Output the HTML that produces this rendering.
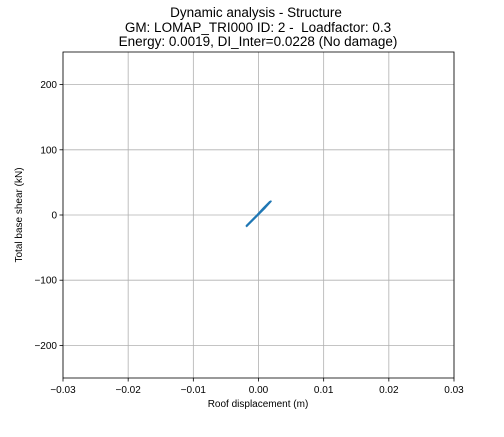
<!DOCTYPE html>
<html><head><meta charset="utf-8"><style>
body{margin:0;background:#fff;}
svg text{font-family:"Liberation Sans",sans-serif;fill:#000;}
.ttl{white-space:pre;}
</style></head><body>
<svg id="c" width="504" height="432" xmlns="http://www.w3.org/2000/svg">
<rect width="504" height="432" fill="#fff"/>
<text x="256" y="17" font-size="13.5" text-anchor="middle" class="ttl">Dynamic analysis - Structure</text>
<text x="258" y="32" font-size="13.5" text-anchor="middle" class="ttl">GM: LOMAP_TRI000 ID: 2 -  Loadfactor: 0.3</text>
<text x="258" y="46" font-size="13.5" text-anchor="middle" class="ttl">Energy: 0.0019, DI_Inter=0.0228 (No damage)</text>
<g id="grid"></g>
<g id="series"></g>
<rect x="63" y="52" width="391" height="326" fill="none" stroke="#000" stroke-width="0.8"/>
<g id="ticks"></g>
<text x="258" y="407" font-size="10" text-anchor="middle">Roof displacement (m)</text>
<text transform="translate(22,215) rotate(-90)" font-size="10" text-anchor="middle">Total base shear (kN)</text>
</svg>
<script>
const xTicks=[-0.03,-0.02,-0.01,0,0.01,0.02,0.03];
const xTickLabels=["−0.03","−0.02","−0.01","0.00","0.01","0.02","0.03"];
const yTicks=[-200,-100,0,100,200];
const yTickLabels=["−200","−100","0","100","200"];
const dispValues=[-0.0019,-0.001,0,0.001,0.0019,0.0017,0.0008,-0.0002,-0.0012,-0.0019];
const shearValues=[-18,-9,1,11,21,20,11,0,-10,-17];
const X0=63,X1=454,Y0=378,Y1=52;
const sx=v=>X0+(v+0.03)/0.06*(X1-X0);
const sy=v=>Y0-(v+250)/500*(Y0-Y1);
const NS="http://www.w3.org/2000/svg";
const g=document.getElementById('grid'),t=document.getElementById('ticks'),s=document.getElementById('series');
function mk(tag,a,p){const e=document.createElementNS(NS,tag);for(const k in a)e.setAttribute(k,a[k]);p.appendChild(e);return e;}
xTicks.forEach((v,i)=>{const x=sx(v);
const l=mk('line',{x1:x,x2:x,y1:Y1,y2:Y0,stroke:'#b0b0b0','stroke-width':0.8},g);


mk('line',{x1:x,x2:x,y1:Y0,y2:Y0+3.5,stroke:'#000','stroke-width':0.8},t);
const tx=mk('text',{x:x,y:Y0+15,'font-size':10,'text-anchor':'middle'},t);tx.textContent=xTickLabels[i];

});
yTicks.forEach((v,i)=>{const y=sy(v);
const l=mk('line',{x1:X0,x2:X1,y1:y,y2:y,stroke:'#b0b0b0','stroke-width':0.8},g);


mk('line',{x1:X0-3.5,x2:X0,y1:y,y2:y,stroke:'#000','stroke-width':0.8},t);
const tx=mk('text',{x:X0-6,y:y+3.5,'font-size':10,'text-anchor':'end'},t);tx.textContent=yTickLabels[i];

});
const pts=dispValues.map((d,i)=>sx(d)+','+sy(shearValues[i])).join(' ');
const pl=mk('polyline',{points:pts,fill:'none',stroke:'#1f77b4','stroke-width':1.8,'stroke-linejoin':'round'},s);


</script>
</body></html>
